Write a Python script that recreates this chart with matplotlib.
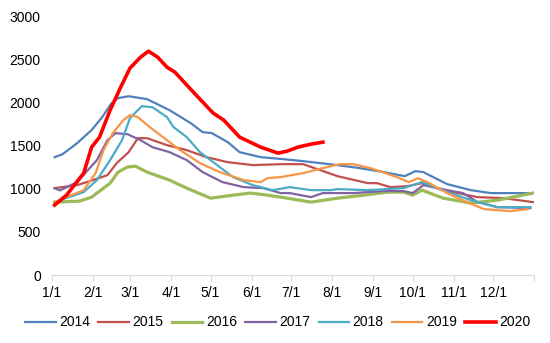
import matplotlib.pyplot as plt

plt.rcParams['font.family'] = ['Liberation Sans', 'DejaVu Sans']

# day of year -> value
d2014 = [2, 8, 19, 30, 38, 45, 50, 58, 72, 89, 105, 114, 121, 133, 142, 158, 175, 190,
         216, 233, 251, 267, 275, 281, 299, 317, 332, 360]
v2014 = [1366, 1400, 1528, 1680, 1830, 1990, 2050, 2072, 2038, 1910, 1760, 1656, 1645,
         1540, 1424, 1366, 1343, 1320, 1274, 1239, 1193, 1146, 1204, 1193, 1054, 984, 950, 950]

d2015 = [2, 19, 31, 42, 49, 58, 65, 72, 87, 102, 117, 133, 152, 173, 190, 203, 216,
         239, 246, 256, 269, 280, 296, 322, 342, 364]
v2015 = [1007, 1042, 1100, 1158, 1297, 1424, 1586, 1586, 1505, 1447, 1366, 1308, 1274,
         1285, 1285, 1216, 1146, 1065, 1065, 1019, 1030, 1065, 984, 903, 891, 845]

d2016 = [2, 21, 30, 44, 50, 57, 63, 72, 89, 102, 120, 137, 150, 163, 173, 178, 196,
         216, 236, 254, 266, 273, 280, 296, 317, 337, 364]
v2016 = [845, 857, 903, 1065, 1193, 1251, 1262, 1193, 1100, 1007, 891, 926, 950, 926,
         903, 891, 845, 891, 926, 961, 961, 926, 984, 891, 834, 868, 950]

d2017 = [2, 6, 19, 34, 42, 48, 57, 67, 76, 89, 102, 114, 129, 145, 160, 173, 180, 196,
         205, 228, 251, 266, 273, 281, 299, 311, 322, 337, 362]
v2017 = [1007, 980, 1077, 1332, 1563, 1644, 1633, 1563, 1482, 1424, 1332, 1193, 1077,
         1019, 1007, 950, 950, 903, 950, 950, 973, 973, 950, 1042, 984, 950, 845, 787, 776]

d2018 = [2, 24, 34, 44, 53, 59, 68, 76, 87, 92, 102, 112, 125, 137, 152, 167, 180, 196,
         211, 216, 239, 266, 280, 299, 317, 337, 362]
v2018 = [845, 961, 1100, 1332, 1563, 1818, 1957, 1945, 1830, 1714, 1598, 1424, 1274,
         1135, 1042, 984, 1019, 984, 984, 996, 984, 1007, 1077, 961, 868, 787, 787]

d2019 = [2, 24, 33, 39, 46, 54, 59, 65, 74, 84, 97, 112, 127, 145, 158, 163, 173, 190,
         208, 218, 228, 241, 261, 270, 277, 284, 299, 314, 327, 347, 360]
v2019 = [845, 984, 1181, 1447, 1644, 1795, 1853, 1830, 1714, 1598, 1447, 1297, 1193,
         1100, 1077, 1123, 1135, 1181, 1251, 1285, 1285, 1239, 1135, 1077, 1123, 1077,
         950, 845, 764, 741, 764]

d2020 = [2, 11, 24, 30, 36, 44, 52, 59, 67, 73, 80, 87, 93, 107, 122, 130, 142, 158,
         171, 178, 186, 196, 205]
v2020 = [811, 926, 1181, 1482, 1598, 1911, 2177, 2397, 2524, 2594, 2524, 2409, 2351,
         2119, 1876, 1795, 1598, 1482, 1413, 1436, 1482, 1517, 1540]

month_days = [0, 31, 59, 90, 120, 151, 181, 212, 243, 273, 304, 334]
month_labels = ['1/1', '2/1', '3/1', '4/1', '5/1', '6/1', '7/1', '8/1', '9/1',
                '10/1', '11/1', '12/1']

series = [
    ('2014', d2014, v2014, '#4F81BD', 1.6),
    ('2015', d2015, v2015, '#C0504D', 1.6),
    ('2016', d2016, v2016, '#9BBB59', 2.3),
    ('2017', d2017, v2017, '#8064A2', 1.6),
    ('2018', d2018, v2018, '#4BACC6', 1.6),
    ('2019', d2019, v2019, '#F79646', 1.6),
    ('2020', d2020, v2020, '#FF0000', 2.6),
]

fig = plt.figure(figsize=(5.5, 3.43), dpi=100)
ax = fig.add_axes([0.0945, 0.198, 0.877, 0.755])

for name, d, v, c, lw in series:
    ax.plot(d, v, color=c, lw=lw, label=name, solid_joinstyle='round')

ax.set_xlim(0, 365)
ax.set_ylim(0, 3000)
ax.set_yticks(range(0, 3001, 500))
ax.set_xticks(month_days + [365])
ax.set_xticklabels(month_labels + [''])
ax.tick_params(axis='y', length=0, labelsize=10, pad=8)
ax.tick_params(axis='x', length=4, color='#D9D9D9', labelsize=10, pad=4)
for s in ['top', 'right', 'left']:
    ax.spines[s].set_visible(False)
ax.spines['bottom'].set_color('#D9D9D9')

fig.legend(loc='center', bbox_to_anchor=(0.505, 0.06), ncol=7, frameon=False,
           fontsize=10, handlelength=2.2, handletextpad=0.25, columnspacing=0.6)

fig.savefig('out.png', dpi=100)
